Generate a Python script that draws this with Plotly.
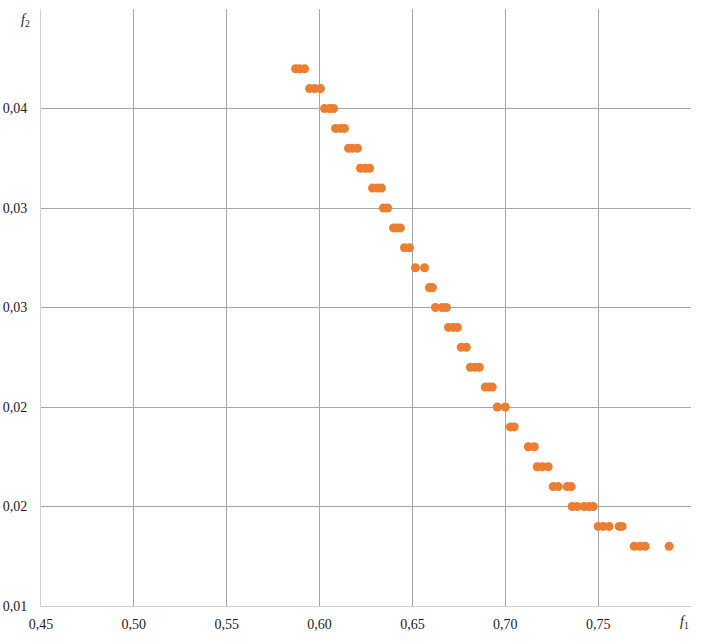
import plotly.graph_objects as go

# Data: f1 (x) and f2 (y)
f1 = [0.5871, 0.5892, 0.5919,
      0.5946, 0.5973, 0.6005,
      0.6027, 0.6054, 0.6075,
      0.6086, 0.6113, 0.6134,
      0.6156, 0.6177, 0.6204,
      0.6220, 0.6247, 0.6269,
      0.6285, 0.6312, 0.6333,
      0.6344, 0.6366,
      0.6398, 0.6419, 0.6435,
      0.6457, 0.6484,
      0.6516, 0.6565,
      0.6591, 0.6608,
      0.6624, 0.6661, 0.6683,
      0.6694, 0.6720, 0.6742,
      0.6763, 0.6790,
      0.6812, 0.6839, 0.6860,
      0.6892, 0.6914, 0.6930,
      0.6957, 0.7000,
      0.7027, 0.7048,
      0.7124, 0.7156,
      0.7172, 0.7199, 0.7231,
      0.7258, 0.7285, 0.7333, 0.7355,
      0.7360, 0.7387, 0.7425, 0.7452, 0.7473,
      0.7500, 0.7527, 0.7559, 0.7613, 0.7629,
      0.7694, 0.7726, 0.7753, 0.7882]
f2 = [0.037, 0.037, 0.037,
      0.036, 0.036, 0.036,
      0.035, 0.035, 0.035,
      0.034, 0.034, 0.034,
      0.033, 0.033, 0.033,
      0.032, 0.032, 0.032,
      0.031, 0.031, 0.031,
      0.030, 0.030,
      0.029, 0.029, 0.029,
      0.028, 0.028,
      0.027, 0.027,
      0.026, 0.026,
      0.025, 0.025, 0.025,
      0.024, 0.024, 0.024,
      0.023, 0.023,
      0.022, 0.022, 0.022,
      0.021, 0.021, 0.021,
      0.020, 0.020,
      0.019, 0.019,
      0.018, 0.018,
      0.017, 0.017, 0.017,
      0.016, 0.016, 0.016, 0.016,
      0.015, 0.015, 0.015, 0.015, 0.015,
      0.014, 0.014, 0.014, 0.014, 0.014,
      0.013, 0.013, 0.013, 0.013]

x_tickvals = [0.45, 0.50, 0.55, 0.60, 0.65, 0.70, 0.75, 0.80]
x_ticktext = ["0,45", "0,50", "0,55", "0,60", "0,65", "0,70", "0,75", " "]
y_tickvals = [0.010, 0.015, 0.020, 0.025, 0.030, 0.035, 0.040]
y_ticktext = ["0,01", "0,02", "0,02", "0,03", "0,03", "0,04", " "]

font = dict(family="Times New Roman, Liberation Serif, DejaVu Serif, serif",
            size=14, color="#1a1a2a")

fig = go.Figure()
fig.add_trace(go.Scatter(
    x=f1, y=f2, mode="markers",
    marker=dict(color="#ED7D31", size=9, line=dict(width=0)),
    showlegend=False, hoverinfo="x+y",
))

fig.update_layout(
    template="none",
    width=701, height=643,
    margin=dict(l=41, r=10, t=9, b=37, autoexpand=False),
    paper_bgcolor="white", plot_bgcolor="white",
    font=font,
    xaxis=dict(
        range=[0.45, 0.80], tickvals=x_tickvals, ticktext=x_ticktext,
        showgrid=True, gridcolor="#a6a6a6", gridwidth=1,
        showline=True, linecolor="#d0d0d0", linewidth=1,
        zeroline=False, ticks="", ticklen=0, tickfont=font, automargin=False,
        ticklabelstandoff=5,
    ),
    yaxis=dict(
        range=[0.010, 0.040], tickvals=y_tickvals, ticktext=y_ticktext,
        showgrid=True, gridcolor="#a6a6a6", gridwidth=1,
        showline=True, linecolor="#d0d0d0", linewidth=1,
        zeroline=False, ticks="", ticklen=0, tickfont=font, automargin=False,
        ticklabelstandoff=10,
    ),
    annotations=[
        dict(text="<i>f</i><sub>1</sub>", xref="paper", yref="paper",
             x=1.0, y=0, xanchor="right", yanchor="top", yshift=-6, xshift=0,
             showarrow=False, font=font),
        dict(text="<i>f</i><sub>2</sub>", xref="paper", yref="paper",
             x=0, y=1.0, xanchor="right", yanchor="top", xshift=-9, yshift=-1,
             showarrow=False, font=font),
    ],
)

fig.write_html("out.html",
               config={"displayModeBar": False},
               post_script="document.body.style.margin='0';document.body.style.overflow='hidden';")
